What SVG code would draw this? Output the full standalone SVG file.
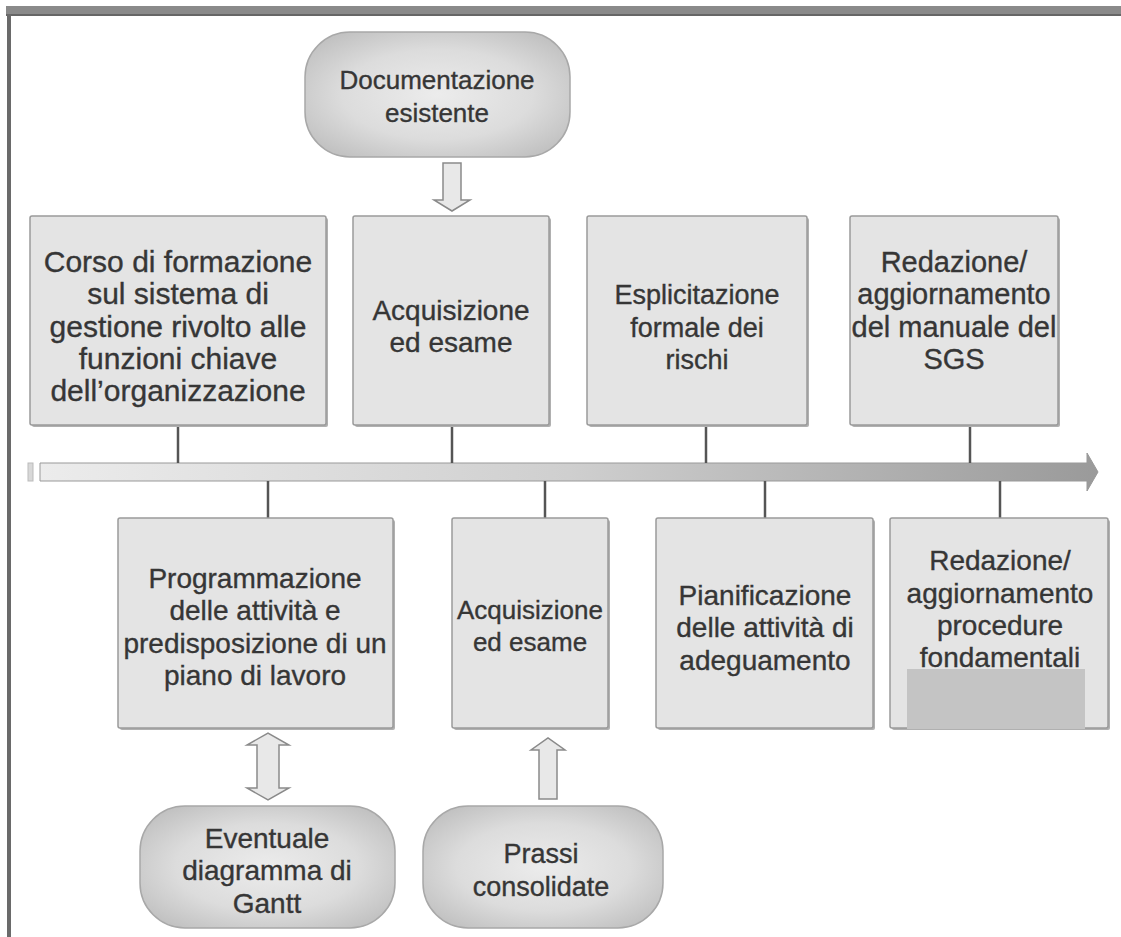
<svg xmlns="http://www.w3.org/2000/svg" width="1121" height="937" viewBox="0 0 1121 937">
<style>
.box{fill:#e4e4e4;stroke:#9a9a9a;stroke-width:1.5}
.shadow{fill:#b0b0b0}
.term{fill:url(#rg);stroke:#a8a8a8;stroke-width:1.5}
.t{font-family:"Liberation Sans",Arial,sans-serif;font-size:28px;fill:#363636;stroke:#363636;stroke-width:0.35;text-anchor:middle}
.conn{stroke:#555;stroke-width:2.5;fill:none}
.hollow{fill:#e8e8e8;stroke:#8a8a8a;stroke-width:1.5;stroke-linejoin:miter}
</style>
<defs>
<radialGradient id="rg" cx="50%" cy="50%" r="60%">
<stop offset="0" stop-color="#ececec"/>
<stop offset="0.6" stop-color="#dcdcdc"/>
<stop offset="1" stop-color="#c2c2c2"/>
</radialGradient>
<linearGradient id="tl" x1="0" y1="0" x2="1" y2="0">
<stop offset="0" stop-color="#ececec"/>
<stop offset="0.5" stop-color="#cfcfcf"/>
<stop offset="1" stop-color="#9a9a9a"/>
</linearGradient>
</defs>
<rect width="1121" height="937" fill="#fff"/>
<g id="frame">
<rect x="6" y="6" width="1115" height="8" fill="#8a8a8a"/>
<line x1="6" y1="15" x2="1121" y2="15" stroke="#333" stroke-width="1.5"/>
<rect x="7" y="14" width="4" height="923" fill="#6a6a6a"/>
</g>
<g id="timeline">
<rect x="28" y="463" width="5" height="18" fill="#d8d8d8" stroke="#bbb" stroke-width="1"/>
<path d="M40 463 H1087 V453 L1098 472 L1087 491 V481 H40 Z" fill="url(#tl)" stroke="#999" stroke-width="1"/>
</g>
<g id="connectors">
<line class="conn" x1="178" y1="426" x2="178" y2="463"/>
<line class="conn" x1="452" y1="426" x2="452" y2="463"/>
<line class="conn" x1="706" y1="426" x2="706" y2="463"/>
<line class="conn" x1="970" y1="426" x2="970" y2="463"/>
<line class="conn" x1="268" y1="481" x2="268" y2="518"/>
<line class="conn" x1="545" y1="481" x2="545" y2="518"/>
<line class="conn" x1="765" y1="481" x2="765" y2="518"/>
<line class="conn" x1="1000" y1="481" x2="1000" y2="518"/>
<path class="hollow" d="M443 163 H461 V200 H470 L452 211 L434 200 H443 Z"/>
<path class="hollow" d="M257 745 H247 L268 733 L289 745 H279 V788 H289 L268 800 L247 788 H257 Z"/>
<path class="hollow" d="M539 750 H531 L548 738 L565 750 H557 V799 H539 Z"/>
</g>
<g id="doc">
<rect class="term" x="305" y="32" width="265" height="125" rx="45" ry="45"/>
<text class="t" x="437" y="89" style="font-size:26px">Documentazione</text>
<text class="t" x="437" y="122" style="font-size:26px">esistente</text>
</g>
<g id="corso">
<rect class="shadow" x="32" y="218" width="296" height="209" rx="2"/>
<rect class="box" x="30" y="216" width="296" height="209" rx="2"/>
<text class="t" x="178" y="272" style="font-size:30px">Corso di formazione</text>
<text class="t" x="178" y="304" style="font-size:30px">sul sistema di</text>
<text class="t" x="178" y="337" style="font-size:30px">gestione rivolto alle</text>
<text class="t" x="178" y="369" style="font-size:30px">funzioni chiave</text>
<text class="t" x="178" y="401" style="font-size:30px">dell’organizzazione</text>
</g>
<g id="acq1">
<rect class="shadow" x="355" y="218" width="196" height="209" rx="2"/>
<rect class="box" x="353" y="216" width="196" height="209" rx="2"/>
<text class="t" x="451" y="320">Acquisizione</text>
<text class="t" x="451" y="352">ed esame</text>
</g>
<g id="espl">
<rect class="shadow" x="589" y="218" width="220" height="209" rx="2"/>
<rect class="box" x="587" y="216" width="220" height="209" rx="2"/>
<text class="t" x="697" y="304" style="font-size:27px">Esplicitazione</text>
<text class="t" x="697" y="337" style="font-size:27px">formale dei</text>
<text class="t" x="697" y="369" style="font-size:27px">rischi</text>
</g>
<g id="manuale">
<rect class="shadow" x="852" y="218" width="208" height="209" rx="2"/>
<rect class="box" x="850" y="216" width="208" height="209" rx="2"/>
<text class="t" x="954" y="272" style="font-size:29px">Redazione/</text>
<text class="t" x="954" y="304" style="font-size:29px">aggiornamento</text>
<text class="t" x="954" y="337" style="font-size:29px">del manuale del</text>
<text class="t" x="954" y="369" style="font-size:29px">SGS</text>
</g>
<g id="progr">
<rect class="shadow" x="120" y="520" width="275" height="210" rx="2"/>
<rect class="box" x="118" y="518" width="275" height="210" rx="2"/>
<text class="t" x="255" y="588">Programmazione</text>
<text class="t" x="255" y="620">delle attività e</text>
<text class="t" x="255" y="653">predisposizione di un</text>
<text class="t" x="255" y="685">piano di lavoro</text>
</g>
<g id="acq2">
<rect class="shadow" x="454" y="520" width="156" height="210" rx="2"/>
<rect class="box" x="452" y="518" width="156" height="210" rx="2"/>
<text class="t" x="530" y="619" style="font-size:26px">Acquisizione</text>
<text class="t" x="530" y="651" style="font-size:26px">ed esame</text>
</g>
<g id="pian">
<rect class="shadow" x="658" y="520" width="217" height="210" rx="2"/>
<rect class="box" x="656" y="518" width="217" height="210" rx="2"/>
<text class="t" x="765" y="605">Pianificazione</text>
<text class="t" x="765" y="637">delle attività di</text>
<text class="t" x="765" y="670">adeguamento</text>
</g>
<g id="proc">
<rect class="shadow" x="892" y="520" width="218" height="210" rx="2"/>
<rect class="box" x="890" y="518" width="218" height="210" rx="2"/>
<rect x="907" y="669" width="178" height="60" fill="#c4c4c4"/>
<text class="t" x="1000" y="570">Redazione/</text>
<text class="t" x="1000" y="603">aggiornamento</text>
<text class="t" x="1000" y="635">procedure</text>
<text class="t" x="1000" y="667">fondamentali</text>
</g>
<g id="gantt">
<rect class="term" x="140" y="806" width="255" height="122" rx="45" ry="45"/>
<text class="t" x="267" y="848">Eventuale</text>
<text class="t" x="267" y="880">diagramma di</text>
<text class="t" x="267" y="913">Gantt</text>
</g>
<g id="prassi">
<rect class="term" x="423" y="806" width="240" height="122" rx="45" ry="45"/>
<text class="t" x="541" y="863" style="font-size:27px">Prassi</text>
<text class="t" x="541" y="896" style="font-size:27px">consolidate</text>
</g>
</svg>
